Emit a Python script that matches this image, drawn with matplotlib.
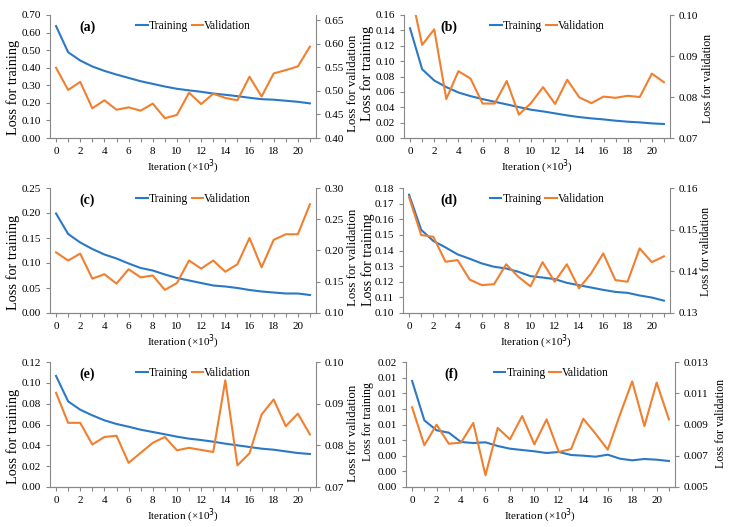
import numpy as np
import matplotlib.pyplot as plt
from matplotlib.ticker import FormatStrFormatter

plt.rcParams['font.family'] = ['Liberation Serif', 'DejaVu Serif']
plt.rcParams['font.size'] = 8

# --- Data ---
iterations = list(range(22))

train_a = [0.637, 0.488, 0.441, 0.407, 0.382, 0.361, 0.342, 0.323, 0.308, 0.293, 0.280,
           0.271, 0.263, 0.253, 0.246, 0.238, 0.229, 0.221, 0.218, 0.212, 0.206, 0.197]
val_a = [0.549, 0.502, 0.519, 0.463, 0.480, 0.460, 0.465, 0.458, 0.473, 0.442, 0.449,
         0.496, 0.472, 0.494, 0.485, 0.480, 0.530, 0.488, 0.537, 0.544, 0.552, 0.594]

train_b = [0.1427, 0.0895, 0.0748, 0.0662, 0.0592, 0.0545, 0.0506, 0.0471, 0.0437, 0.0402, 0.0368,
           0.0346, 0.0320, 0.0294, 0.0272, 0.0255, 0.0242, 0.0225, 0.0212, 0.0203, 0.0190, 0.0182]
val_b = [0.1065, 0.0927, 0.0965, 0.0795, 0.0863, 0.0845, 0.0784, 0.0784, 0.0839, 0.0757, 0.0785,
         0.0824, 0.0783, 0.0842, 0.0799, 0.0785, 0.0801, 0.0798, 0.0803, 0.0800, 0.0857, 0.0836]

train_c = [0.199, 0.158, 0.141, 0.128, 0.117, 0.109, 0.099, 0.090, 0.085, 0.077, 0.070,
           0.065, 0.060, 0.055, 0.053, 0.050, 0.046, 0.043, 0.041, 0.039, 0.039, 0.036]
val_c = [0.197, 0.184, 0.195, 0.155, 0.162, 0.147, 0.170, 0.157, 0.160, 0.137, 0.148,
         0.184, 0.171, 0.184, 0.166, 0.178, 0.220, 0.173, 0.217, 0.226, 0.226, 0.274]

train_d = [0.1757, 0.1532, 0.1461, 0.1420, 0.1375, 0.1347, 0.1317, 0.1296, 0.1285, 0.1264, 0.1236,
           0.1227, 0.1217, 0.1193, 0.1178, 0.1163, 0.1148, 0.1135, 0.1129, 0.1112, 0.1099, 0.1079]
val_d = [0.1578, 0.1487, 0.1483, 0.1423, 0.1427, 0.1380, 0.1367, 0.1369, 0.1417, 0.1387, 0.1364,
         0.1422, 0.1375, 0.1417, 0.1359, 0.1395, 0.1443, 0.1379, 0.1375, 0.1455, 0.1422, 0.1436]

train_e = [0.1066, 0.0822, 0.0742, 0.0688, 0.0640, 0.0605, 0.0579, 0.0550, 0.0528, 0.0506, 0.0483,
           0.0464, 0.0451, 0.0435, 0.0416, 0.0400, 0.0384, 0.0368, 0.0358, 0.0342, 0.0326, 0.0317]
val_e = [0.0926, 0.0854, 0.0854, 0.0802, 0.0820, 0.0823, 0.0758, 0.0782, 0.0806, 0.0820, 0.0788,
         0.0794, 0.0789, 0.0784, 0.0956, 0.0752, 0.0781, 0.0874, 0.0910, 0.0846, 0.0876, 0.0826]

train_f = [0.01696, 0.01067, 0.00907, 0.00869, 0.00720, 0.00704, 0.00715, 0.00656, 0.00613, 0.00592, 0.00571,
           0.00544, 0.00560, 0.00512, 0.00501, 0.00485, 0.00517, 0.00453, 0.00427, 0.00448, 0.00437, 0.00416]
val_f = [0.01010, 0.00767, 0.00899, 0.00777, 0.00784, 0.00910, 0.00575, 0.00878, 0.00805, 0.00954, 0.00773,
         0.00933, 0.00724, 0.00743, 0.00937, 0.00841, 0.00739, 0.00963, 0.01176, 0.00890, 0.01168, 0.00933]

panel_tags = ['(a)', '(b)', '(c)', '(d)', '(e)', '(f)']
f_left_ticklabels = ['0.00', '0.00', '0.00', '0.01', '0.01', '0.01', '0.01', '0.01', '0.02']

# --- Panel settings: pixel box (left, top, right, bottom), axis ranges, label sizes/centres ---
W, H = 733, 527
panels = [
    dict(box=(50, 15, 316, 138), tr=train_a, va=val_a,
         ly=(0, 0.70, 0.10), ry=(0.40, 0.661, 0.05), rticks_top=0.65, rfmt='%.2f',
         lfs=10.3, rfs=9.3, tagx=0.14, lab=(13, 87, 353, 83)),
    dict(box=(404, 15, 670, 138), tr=train_b, va=val_b,
         ly=(0, 0.16, 0.02), ry=(0.07, 0.10, 0.01), rfmt='%.2f',
         lfs=10.3, rfs=8.5, tagx=0.17, lab=(367, 73, 708, 78)),
    dict(box=(50, 188, 316, 313), tr=train_c, va=val_c,
         ly=(0, 0.25, 0.05), ry=(0.10, 0.30, 0.05), rfmt='%.2f',
         lfs=10.3, rfs=9.3, tagx=0.14, lab=(13, 262, 353, 257)),
    dict(box=(403, 188, 670, 313), tr=train_d, va=val_d,
         ly=(0.10, 0.18, 0.01), ry=(0.13, 0.16, 0.01), rfmt='%.2f',
         lfs=10.0, rfs=8.5, tagx=0.17, lab=(368, 260, 706, 251)),
    dict(box=(50, 362, 316, 487), tr=train_e, va=val_e,
         ly=(0, 0.12, 0.02), ry=(0.07, 0.10, 0.01), rfmt='%.2f',
         lfs=10.3, rfs=9.3, tagx=0.14, lab=(13, 436, 353, 433)),
    dict(box=(406, 362, 675, 487), tr=train_f, va=val_f,
         ly=(0, 0.02, 0.0025), ry=(0.005, 0.013, 0.002), rfmt='%.3f',
         lfs=8.6, rfs=8.5, tagx=0.17, lab=(368, 422, 721, 423)),
]

BLUE = '#2a78c6'
ORANGE = '#f07f2e'
AXCOL = '#888888'

fig = plt.figure(figsize=(W / 100, H / 100), dpi=100)

for i, p in enumerate(panels):
    l, t, r, b = p['box']
    ax = fig.add_axes([l / W, 1 - b / H, (r - l) / W, (b - t) / H])
    ax2 = ax.twinx()

    line1, = ax.plot(iterations, p['tr'], color=BLUE, lw=1.5, label='Training')
    line2, = ax2.plot(iterations, p['va'], color=ORANGE, lw=1.5, label='Validation')

    ax.set_xlim(-0.5, 21.5)
    ax.set_xticks(range(0, 22))
    ax.set_xticklabels([str(x) if x % 2 == 0 else '' for x in range(22)])

    lo, hi, st = p['ly']
    ax.set_ylim(lo, hi)
    ax.set_yticks(np.arange(lo, hi + st / 2, st))
    if i == 5:
        ax.set_yticklabels(f_left_ticklabels)
    else:
        ax.yaxis.set_major_formatter(FormatStrFormatter('%.2f'))

    rlo, rhi, rst = p['ry']
    ax2.set_ylim(rlo, rhi)
    rtop = p.get('rticks_top', rhi)
    ax2.set_yticks(np.arange(rlo, rtop + rst / 2, rst))
    ax2.yaxis.set_major_formatter(FormatStrFormatter(p['rfmt']))

    for a in (ax, ax2):
        a.spines['top'].set_visible(False)
        for s in ('left', 'right', 'bottom'):
            a.spines[s].set_color(AXCOL)
        a.tick_params(colors=AXCOL, labelcolor='black', length=3, width=0.8, labelsize=8)
    ax2.spines['left'].set_visible(False)
    ax.spines['right'].set_visible(False)

    ax.set_xlabel('Iteration (×10$^3$)', fontsize=8, labelpad=1)
    ax.set_ylabel('Loss for training', fontsize=p['lfs'])
    ax2.set_ylabel('Loss for validation', fontsize=p['rfs'])

    # place y labels by their centres (pixel positions)
    lx, lyc, rx, ryc = p['lab']
    ax.yaxis.set_label_coords((lx - l) / (r - l), (b - lyc) / (b - t))
    ax.yaxis.label.set_verticalalignment('center')
    ax2.yaxis.set_label_coords((rx - l) / (r - l), (b - ryc) / (b - t))
    ax2.yaxis.label.set_verticalalignment('center')

    ax2.text(p['tagx'], 0.90, panel_tags[i], transform=ax.transAxes, fontsize=10,
             fontweight='bold', ha='center', va='center')
    ax2.legend([line1, line2], ['Training', 'Validation'], loc='upper center',
               bbox_to_anchor=(0.54, 1.04), ncol=2, frameon=False, fontsize=8.3,
               handlelength=1.0, handletextpad=0.1, columnspacing=0.3)

fig.savefig('out.png', dpi=100)
